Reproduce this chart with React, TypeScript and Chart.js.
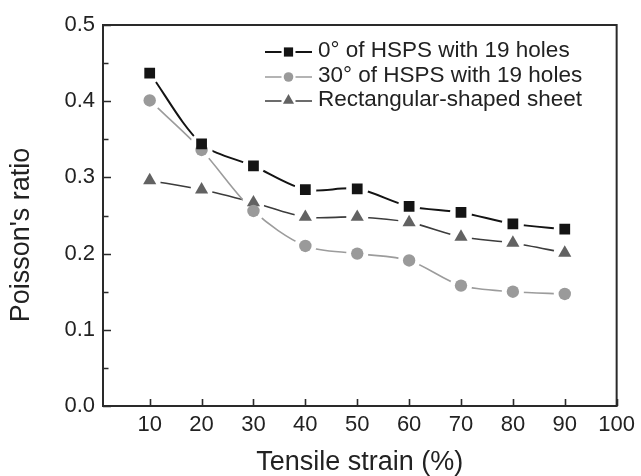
import React, { useEffect, useRef } from "react";
import { Chart, registerables } from "chart.js";

Chart.register(...registerables);

// ---- data ----
const strain = [10, 20, 30, 40, 50, 60, 70, 80, 90];
const hsps0 = [0.437, 0.344, 0.315, 0.284, 0.285, 0.262, 0.254, 0.239, 0.232];
const hsps30 = [0.401, 0.336, 0.256, 0.21, 0.2, 0.191, 0.158, 0.15, 0.147];
const rectSheet = [0.296, 0.284, 0.267, 0.248, 0.248, 0.241, 0.222, 0.214, 0.201];
const seriesNames = [
  "0° of HSPS with 19 holes",
  "30° of HSPS with 19 holes",
  "Rectangular-shaped sheet",
];
const xTicks = [10, 20, 30, 40, 50, 60, 70, 80, 90, 100];
const yTicks = [0, 0.1, 0.2, 0.3, 0.4, 0.5];
const yMinorTicks = [0.05, 0.15, 0.25, 0.35, 0.45];
const xTitle = "Tensile strain (%)";
const yTitle = "Poisson's ratio";

const FONT = "'Liberation Sans', Arial, Helvetica, sans-serif";
const TEXT = "#222";

type Style = "rect" | "circle" | "triangle";

function drawMarker(ctx: CanvasRenderingContext2D, style: Style, x: number, y: number, size: number, color: string) {
  ctx.save();
  ctx.fillStyle = color;
  ctx.beginPath();
  if (style === "rect") {
    ctx.rect(x - size, y - size, size * 2, size * 2);
  } else if (style === "circle") {
    ctx.arc(x, y, size, 0, Math.PI * 2);
  } else {
    const r = size;
    ctx.moveTo(x, y - r);
    ctx.lineTo(x + r * Math.sin((2 * Math.PI) / 3), y - r * Math.cos((2 * Math.PI) / 3));
    ctx.lineTo(x + r * Math.sin((4 * Math.PI) / 3), y - r * Math.cos((4 * Math.PI) / 3));
    ctx.closePath();
  }
  ctx.fill();
  ctx.restore();
}

export default function App() {
  const ref = useRef<HTMLCanvasElement>(null);

  useEffect(() => {
    const canvas = ref.current!;
    const series = [
      { name: seriesNames[0], values: hsps0, line: "#141414", width: 2, fill: "#141414", style: "rect" as Style, radius: 7.6, legendSize: 4.6 },
      { name: seriesNames[1], values: hsps30, line: "#9c9c9c", width: 1.6, fill: "#9a9a9a", style: "circle" as Style, radius: 6.2, legendSize: 4.8 },
      { name: seriesNames[2], values: rectSheet, line: "#3c3c3c", width: 1.6, fill: "#626262", style: "triangle" as Style, radius: 7.6, legendSize: 6.4 },
    ];

    const datasets: any[] = [];
    series.forEach((s) => {
      const pts = strain.map((x, i) => ({ x, y: s.values[i] }));
      datasets.push({
        label: s.name,
        data: pts,
        borderColor: s.line,
        borderWidth: s.width,
        pointRadius: 0,
        tension: 0.3,
        fill: false,
        order: 3,
      });
      datasets.push({
        label: s.name + " gap",
        data: pts,
        showLine: false,
        pointRadius: 11,
        pointStyle: "circle",
        pointBackgroundColor: "#ffffff",
        pointBorderWidth: 0,
        order: 2,
      });
      datasets.push({
        label: s.name + " marker",
        data: pts,
        showLine: false,
        pointRadius: s.radius,
        pointStyle: s.style,
        pointBackgroundColor: s.fill,
        pointBorderColor: s.fill,
        pointBorderWidth: 0,
        order: 1,
      });
    });

    const framePlugin = {
      id: "frame",
      afterDraw(chart: any) {
        const ctx: CanvasRenderingContext2D = chart.ctx;
        const { left, right, top, bottom } = chart.chartArea;
        const xs = chart.scales.x;
        const ys = chart.scales.y;
        ctx.save();
        ctx.strokeStyle = "#2a2a2a";
        ctx.lineWidth = 2;
        ctx.strokeRect(left, top, right - left, bottom - top);
        ctx.lineWidth = 1.6;
        ctx.beginPath();
        xTicks.forEach((v) => {
          const px = Math.round(xs.getPixelForValue(v)) + 0.5;
          ctx.moveTo(px, bottom);
          ctx.lineTo(px, bottom - 7);
        });
        yTicks.forEach((v) => {
          const py = Math.round(ys.getPixelForValue(v)) + 0.5;
          ctx.moveTo(left, py);
          ctx.lineTo(left + 8, py);
        });
        yMinorTicks.forEach((v) => {
          const py = Math.round(ys.getPixelForValue(v)) + 0.5;
          ctx.moveTo(left, py);
          ctx.lineTo(left + 5.5, py);
        });
        ctx.stroke();

        // y title
        ctx.fillStyle = TEXT;
        ctx.font = `27px ${FONT}`;
        ctx.textAlign = "center";
        ctx.textBaseline = "middle";
        ctx.translate(22, 235);
        ctx.rotate(-Math.PI / 2);
        ctx.fillText(yTitle, 0, 0);
        ctx.restore();

        // legend
        ctx.save();
        const x0 = 265, x1 = 312, mx = 288.5, tx = 318;
        const rows = [52, 77, 101];
        series.forEach((s, i) => {
          const y = rows[i];
          ctx.strokeStyle = s.line;
          ctx.lineWidth = s.width;
          ctx.beginPath();
          ctx.moveTo(x0, y);
          ctx.lineTo(mx - 7, y);
          ctx.moveTo(mx + 7, y);
          ctx.lineTo(x1, y);
          ctx.stroke();
          drawMarker(ctx, s.style, mx, s.style === "triangle" ? y - 0.5 : y, s.legendSize, s.fill);
          ctx.fillStyle = TEXT;
          ctx.font = `22.5px ${FONT}`;
          ctx.textAlign = "left";
          ctx.textBaseline = "middle";
          ctx.fillText(s.name, tx, y - 1.5);
        });
        ctx.restore();
      },
    };

    const chart = new Chart(canvas, {
      type: "line",
      data: { datasets },
      options: {
        animation: false,
        responsive: false,
        events: [],
        layout: { padding: { top: 25, right: 22, left: 0, bottom: 0 } },
        plugins: {
          legend: { display: false },
          tooltip: { enabled: false },
        },
        scales: {
          x: {
            type: "linear",
            min: 1,
            max: 100,
            afterBuildTicks: (s: any) => {
              s.ticks = xTicks.map((v) => ({ value: v }));
            },
            afterFit: (s: any) => {
              s.height = 70;
            },
            grid: { display: false, drawTicks: false },
            border: { display: false },
            ticks: {
              padding: 6,
              color: TEXT,
              font: { family: FONT, size: 22 },
              maxRotation: 0,
              autoSkip: false,
              callback: (v: any) => String(v),
            },
            title: {
              display: true,
              text: xTitle,
              color: TEXT,
              font: { family: FONT, size: 27, lineHeight: 1 },
              padding: { top: 0, bottom: 0 },
            },
          },
          y: {
            type: "linear",
            min: 0,
            max: 0.5,
            afterBuildTicks: (s: any) => {
              s.ticks = yTicks.map((v) => ({ value: v }));
            },
            afterFit: (s: any) => {
              s.width = 103;
            },
            grid: { display: false, drawTicks: false },
            border: { display: false },
            ticks: {
              padding: 8,
              color: TEXT,
              font: { family: FONT, size: 22 },
              autoSkip: false,
              callback: (v: any) => Number(v).toFixed(1),
            },
          },
        },
      },
      plugins: [framePlugin],
    } as any);

    return () => chart.destroy();
  }, []);

  return (
    <div style={{ position: "absolute", left: 0, top: 0, width: 641, height: 476, background: "#fff" }}>
      <canvas ref={ref} width={641} height={476} />
    </div>
  );
}
